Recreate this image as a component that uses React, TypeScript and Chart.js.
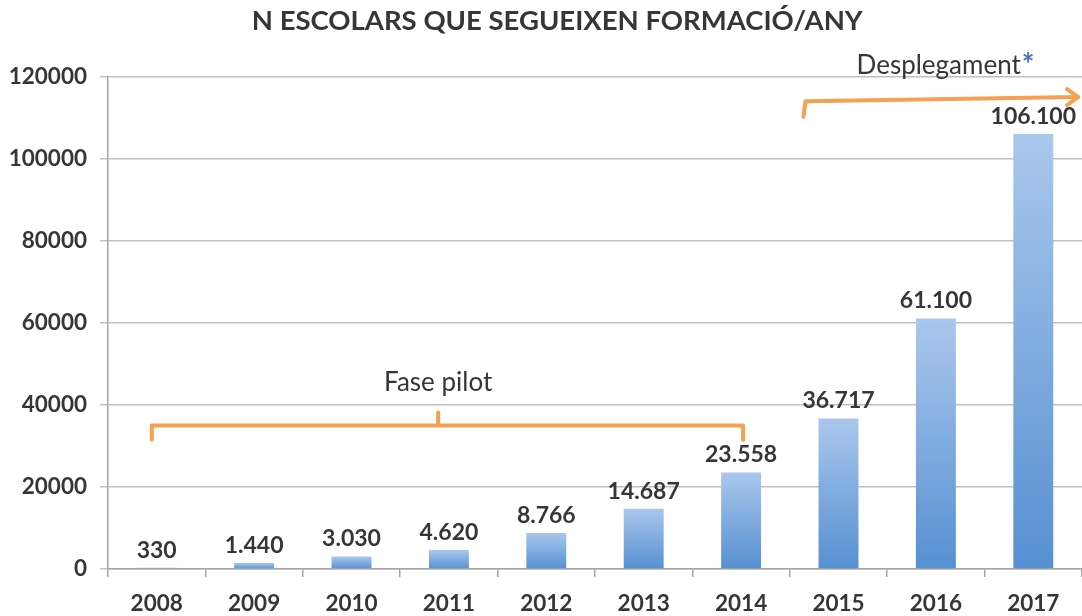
import React, { useEffect, useRef } from "react";
import { Chart, registerables } from "chart.js";

Chart.register(...registerables);

const categories = ["2008", "2009", "2010", "2011", "2012", "2013", "2014", "2015", "2016", "2017"];
const students = [330, 1440, 3030, 4620, 8766, 14687, 23558, 36717, 61100, 106100];
const yTicks = [0, 20000, 40000, 60000, 80000, 100000, 120000];
const titleText = "N ESCOLARS QUE SEGUEIXEN FORMACIÓ/ANY";
const pilotText = "Fase pilot";
const deployText = "Desplegament";

const FONT = "Lato, 'Open Sans', sans-serif";
const TEXT = "#363636";
const ORANGE = "#f5a052";

function fmt(v: number): string {
  return String(v).replace(/\B(?=(\d{3})+(?!\d))/g, ".");
}

const overlayPlugin = {
  id: "overlay",
  afterDraw(chart: any) {
    const { ctx, scales } = chart;
    const x = scales.x;
    const y = scales.y;
    ctx.save();

    // title
    ctx.fillStyle = TEXT;
    ctx.font = `bold 27.5px ${FONT}`;
    ctx.textAlign = "center";
    ctx.textBaseline = "middle";
    ctx.fillText(titleText, chart.width * 0.515, 21);

    // data labels
    ctx.font = `bold 23px ${FONT}`;
    ctx.textBaseline = "bottom";
    const meta = chart.getDatasetMeta(0);
    meta.data.forEach((bar: any, i: number) => {
      ctx.fillText(fmt(students[i]), bar.x, bar.y - 6);
    });

    // Fase pilot bracket
    ctx.strokeStyle = ORANGE;
    ctx.lineWidth = 4;
    ctx.lineCap = "round";
    ctx.lineJoin = "round";
    const bl = x.getPixelForValue(-0.05);
    const br = x.getPixelForValue(6.02);
    const bm = x.getPixelForValue(2.89);
    const by = y.getPixelForValue(35000);
    const bEnd = y.getPixelForValue(31500);
    const bTip = y.getPixelForValue(38200);
    ctx.beginPath();
    ctx.moveTo(bl, bEnd);
    ctx.lineTo(bl, by);
    ctx.lineTo(br, by);
    ctx.lineTo(br, bEnd);
    ctx.moveTo(bm, by);
    ctx.lineTo(bm, bTip);
    ctx.stroke();

    ctx.fillStyle = TEXT;
    ctx.font = `26px ${FONT}`;
    ctx.textBaseline = "middle";
    ctx.textAlign = "center";
    ctx.fillText(pilotText, bm, y.getPixelForValue(45400));

    // Desplegament arrow
    const ax0 = x.getPixelForValue(6.64);
    const ay0 = y.getPixelForValue(110300);
    const ay1 = y.getPixelForValue(114100);
    const ax1 = x.getPixelForValue(9.46);
    const ay2 = y.getPixelForValue(115100);
    ctx.beginPath();
    ctx.moveTo(ax0, ay0);
    ctx.lineTo(ax0 + 2, ay1);
    ctx.lineTo(ax1, ay2);
    ctx.stroke();
    ctx.beginPath();
    ctx.moveTo(ax1 - 11, ay2 - 8);
    ctx.lineTo(ax1, ay2);
    ctx.lineTo(ax1 - 11, ay2 + 8);
    ctx.stroke();

    ctx.font = `26px ${FONT}`;
    ctx.textAlign = "left";
    const tw = ctx.measureText(deployText).width;
    const tcx = x.getPixelForValue(8.09);
    const ty = y.getPixelForValue(122700);
    const tx = tcx - (tw + 12) / 2;
    ctx.fillStyle = TEXT;
    ctx.fillText(deployText, tx, ty);
    ctx.fillStyle = "#4a6fb5";
    ctx.font = `bold 30px ${FONT}`;
    ctx.fillText("*", tx + tw + 1, ty - 1);

    ctx.restore();
  },
};

export default function App() {
  const ref = useRef<HTMLCanvasElement>(null);

  useEffect(() => {
    document.body.style.margin = "0";
    const canvas = ref.current;
    if (!canvas) return;
    const chart = new Chart(canvas, {
      type: "bar",
      data: {
        labels: categories,
        datasets: [
          {
            data: students,
            barPercentage: 0.41,
            categoryPercentage: 1,
            backgroundColor: (c: any) => {
              const ch = c.chart;
              if (!ch.chartArea || c.type !== "data") return "#7aa7dc";
              const ys = ch.scales.y;
              const top = ys.getPixelForValue(c.raw);
              const base = ys.getPixelForValue(0);
              const g = ch.ctx.createLinearGradient(0, top, 0, base);
              g.addColorStop(0, "#aac7ec");
              g.addColorStop(1, "#5690d2");
              return g;
            },
            borderWidth: 0,
          },
        ],
      },
      options: {
        animation: false,
        responsive: false,
        maintainAspectRatio: false,
        layout: { padding: { top: 77, right: 0, left: 0, bottom: 0 } },
        plugins: {
          legend: { display: false },
          title: { display: false },
          tooltip: { enabled: false },
        },
        scales: {
          x: {
            offset: true,
            grid: {
              offset: true,
              drawOnChartArea: false,
              tickLength: 8,
              color: "#a6a6a6",
              lineWidth: 1.5,
            },
            border: { color: "#a6a6a6", width: 1.5 },
            ticks: {
              color: TEXT,
              font: { family: FONT, size: 22.5, weight: "bold" },
              padding: 13,
              maxRotation: 0,
            },
            afterFit: (s: any) => {
              s.height = 47;
            },
          },
          y: {
            min: 0,
            max: 120000,
            afterBuildTicks: (s: any) => {
              s.ticks = yTicks.map((v) => ({ value: v }));
            },
            grid: {
              color: "#bfbfbf",
              lineWidth: 1.5,
              tickLength: 8,
            },
            border: { color: "#a6a6a6", width: 1.5 },
            ticks: {
              color: TEXT,
              font: { family: FONT, size: 22.5, weight: "bold" },
              padding: 13,
              callback: (v: any) => String(v),
            },
            afterFit: (s: any) => {
              s.width = 108;
            },
          },
        },
      },
      plugins: [overlayPlugin],
    });
    return () => chart.destroy();
  }, []);

  return (
    <div style={{ width: 1082, height: 616 }}>
      <canvas ref={ref} width={1082} height={616} style={{ display: "block" }} />
    </div>
  );
}
